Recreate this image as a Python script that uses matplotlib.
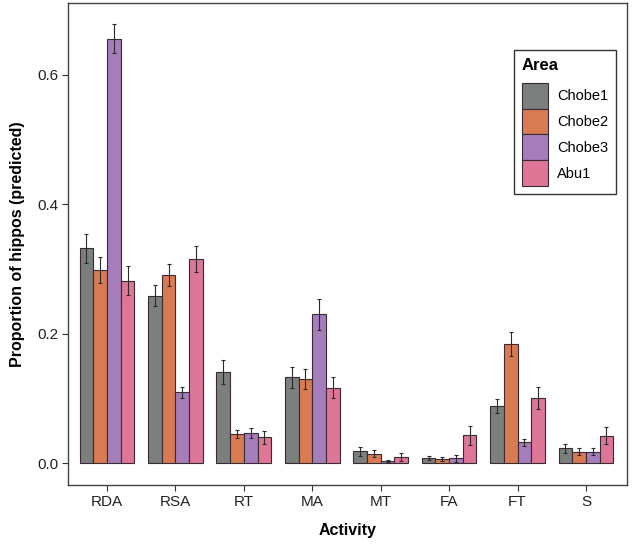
import numpy as np
import matplotlib
matplotlib.use('Agg')
import matplotlib.pyplot as plt

plt.rcParams['font.family'] = ['Liberation Sans', 'DejaVu Sans']

# Data
activities = ['RDA', 'RSA', 'RT', 'MA', 'MT', 'FA', 'FT', 'S']
areas = ['Chobe1', 'Chobe2', 'Chobe3', 'Abu1']

chobe1 = [0.332, 0.259, 0.141, 0.133, 0.0185, 0.0082, 0.088, 0.023]
chobe2 = [0.298, 0.291, 0.045, 0.130, 0.015, 0.006, 0.184, 0.018]
chobe3 = [0.656, 0.110, 0.047, 0.230, 0.0036, 0.0077, 0.0324, 0.018]
abu1 = [0.282, 0.315, 0.040, 0.117, 0.0097, 0.043, 0.101, 0.0427]

chobe1_err = [0.022, 0.016, 0.018, 0.016, 0.007, 0.0036, 0.011, 0.007]
chobe2_err = [0.020, 0.017, 0.0065, 0.015, 0.0057, 0.003, 0.019, 0.0054]
chobe3_err = [0.022, 0.0085, 0.0077, 0.024, 0.002, 0.0057, 0.0057, 0.0054]
abu1_err = [0.022, 0.020, 0.0098, 0.016, 0.0057, 0.014, 0.0165, 0.0134]

colors = ['#7b7f7d', '#d87b52', '#a67dbb', '#de7698']

series = [chobe1, chobe2, chobe3, abu1]
errors = [chobe1_err, chobe2_err, chobe3_err, abu1_err]

fig = plt.figure(figsize=(6.33, 5.47), dpi=100)
ax = fig.add_axes([68 / 633, 62 / 547, 559 / 633, 482 / 547])

x = np.arange(1, len(activities) + 1)
w = 0.2
for i, (vals, errs) in enumerate(zip(series, errors)):
    pos = x + (i - 1.5) * w
    ax.bar(pos, vals, width=w, color=colors[i], edgecolor='#3a2a33',
           linewidth=0.8, label=areas[i], zorder=2)
    ax.errorbar(pos, vals, yerr=errs, fmt='none', ecolor='#2a2a2a',
                elinewidth=0.8, capsize=1.6, capthick=0.8, zorder=3)

ax.set_xlim(0.43, 8.6)
ax.set_ylim(-0.0335, 0.711)
ax.set_xticks(x)
ax.set_xticklabels(activities)
ax.set_yticks([0.0, 0.2, 0.4, 0.6])
ax.set_yticklabels(['0.0', '0.2', '0.4', '0.6'])
ax.tick_params(axis='both', labelsize=11, colors='#333333', length=4,
               labelcolor='#222222', pad=3)

for s in ax.spines.values():
    s.set_color('#444444')
    s.set_linewidth(1.0)

ax.set_xlabel('Activity', fontsize=11.5, fontweight='bold', labelpad=10)
ax.set_ylabel('Proportion of hippos (predicted)', fontsize=11.5,
              fontweight='bold', labelpad=9)

leg = ax.legend(title='Area', loc='upper left',
                bbox_to_anchor=((514 - 68) / 559, (485 - 50) / 482),
                borderaxespad=0.0,
                fontsize=10.5, title_fontproperties={'weight': 'bold', 'size': 12},
                fancybox=False, edgecolor='black', handlelength=1.8,
                handleheight=2.35, handletextpad=0.6, labelspacing=0.0,
                borderpad=0.55, alignment='left')
leg.get_frame().set_linewidth(1.0)
# gap between title and entries
leg._legend_box.sep = 7

fig.savefig('out.png', dpi=100)
